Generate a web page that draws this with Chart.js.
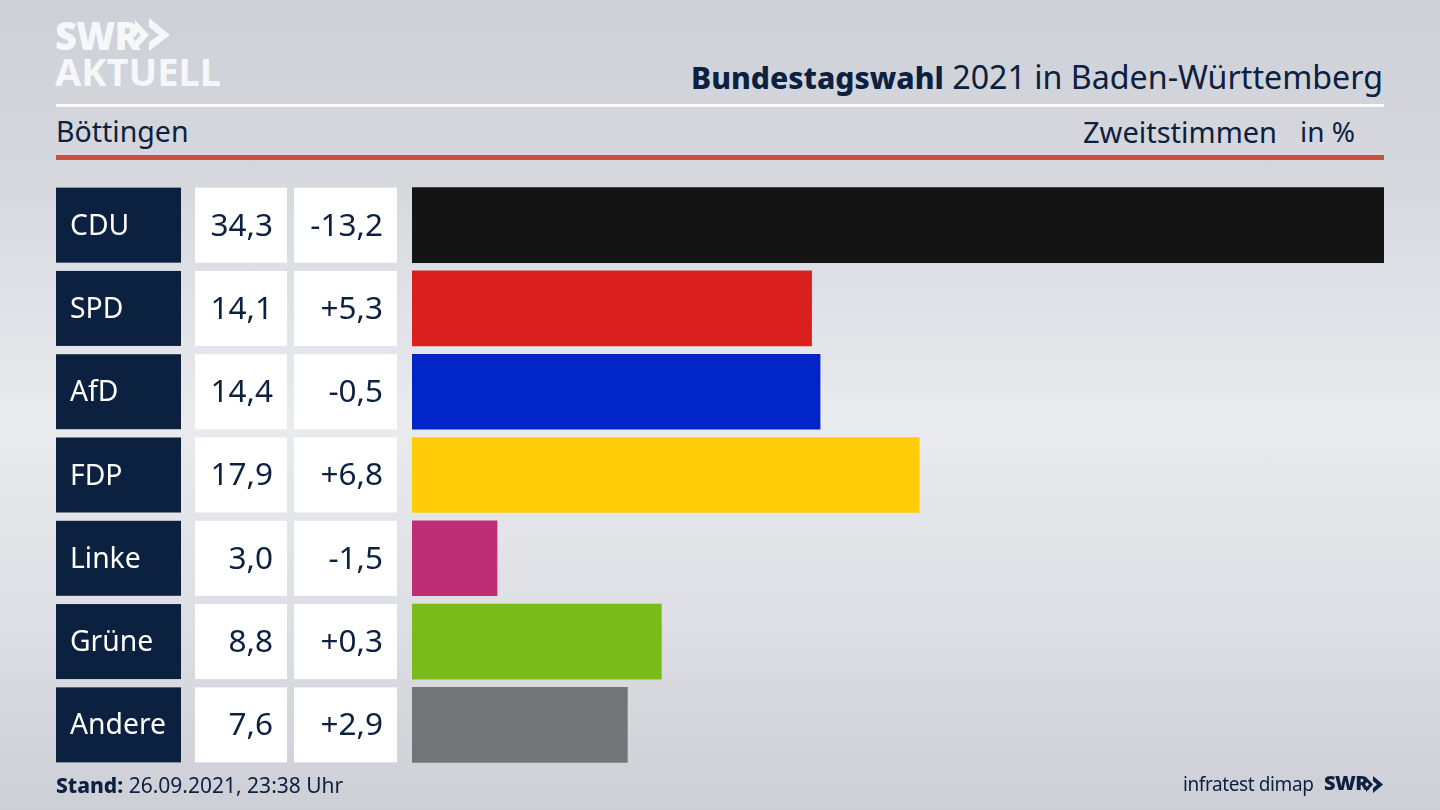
<!DOCTYPE html>
<html lang="de">
<head>
<meta charset="utf-8">
<title>Bundestagswahl 2021 in Baden-Württemberg</title>
<script src="https://cdn.jsdelivr.net/npm/chart.js@4"></script>
<style>
  html, body { margin: 0; padding: 0; }
  body {
    width: 1440px; height: 810px; overflow: hidden; position: relative;
    background: linear-gradient(to bottom, #cdd0d7 0%, #d6d8de 22%, #e9ebef 52%, #dcdee3 78%, #cdcfd6 100%);
    font-family: "Noto Sans", sans-serif; color: #0c2040;
  }
  canvas { position: absolute; left: 0; top: 0; }
  .t { position: absolute; white-space: nowrap; line-height: 1; }
  .rule { position: absolute; left: 56px; width: 1328px; }
  #logo1 { left: 55px; top: 16px; font-size: 38px; font-weight: 900; color: #f6f7f8; letter-spacing: -1px; }
  #logo2 { left: 55px; top: 52px; font-size: 38px; font-weight: 700; color: #f6f7f8; letter-spacing: 0; }
  #title { right: 57px; top: 61px; font-size: 32.2px; }
  #title b { font-weight: 800; font-size: 30.1px; }
  #place { left: 56px; top: 117px; font-size: 28.5px; }
  #kind { left: 1083px; top: 117px; font-size: 29px; }
  #unit { left: 1300px; top: 117px; font-size: 28px; }
  #stand { left: 56px; top: 775px; font-size: 21px; }
  #stand b { font-weight: 800; }
  #source { left: 1183px; top: 775px; font-size: 19px; letter-spacing: -0.4px; }
  #swr { left: 1324px; top: 773px; font-size: 20px; font-weight: 900; letter-spacing: -0.5px; }
  svg { position: absolute; }
</style>
</head>
<body>
<div class="t" id="logo1">SWR</div>
<svg style="left:135px;top:18px" width="36" height="34" viewBox="0 0 36 34"><path d="M0 2 L14 17 L0 32 L0 23 L6 17 L0 11 Z M14 0 L35 17 L14 33 L14 24 L24 17 L14 9 Z" fill="#f6f7f8"/></svg>
<div class="t" id="logo2">AKTUELL</div>
<div class="t" id="title"><b>Bundestagswahl</b> 2021 in Baden-Württemberg</div>
<div class="rule" style="top:104px;height:3px;background:#fbfbfc"></div>
<div class="t" id="place">Böttingen</div>
<div class="t" id="kind">Zweitstimmen</div>
<div class="t" id="unit">in %</div>
<div class="rule" style="top:155px;height:5px;background:#c9503c"></div>
<canvas id="wahlChart" width="1440" height="810"></canvas>
<div class="t" id="stand"><b>Stand:</b> 26.09.2021, 23:38 Uhr</div>
<div class="t" id="source">infratest dimap</div>
<div class="t" id="swr">SWR</div>
<svg style="left:1366px;top:776px" width="18" height="17" viewBox="0 0 18 17"><path d="M0 1 L7 8.5 L0 16 L0 12 L3 8.5 L0 5 Z M7 0 L17 8.5 L7 17 L7 12 L11 8.5 L7 5 Z" fill="#0c2040"/></svg>

<script>
// Werte
const parteien = ['CDU', 'SPD', 'AfD', 'FDP', 'Linke', 'Grüne', 'Andere'];
const anteile = [34.3, 14.1, 14.4, 17.9, 3.0, 8.8, 7.6];
const differenzen = [-13.2, 5.3, -0.5, 6.8, -1.5, 0.3, 2.9];
const farben = ['#141414', '#d9201e', '#0125c9', '#ffcc08', '#bd2e74', '#79bc1a', '#737476'];

const NAVY = '#0c2040';
const BALKEN = 75;

const fmtAnteil = v => v.toFixed(1).replace('.', ',');
const fmtDiff = v => (v > 0 ? '+' : '-') + Math.abs(v).toFixed(1).replace('.', ',');

// Kaesten links neben den Balken, vor den Achsen zeichnen
const kaesten = {
    id: 'kaesten',
    beforeDraw(chart) {
        const { ctx, scales: { y } } = chart;
        parteien.forEach((p, i) => {
            const top = y.getPixelForValue(i) - BALKEN / 2;
            ctx.fillStyle = NAVY;
            ctx.fillRect(56, top, 125, BALKEN);
            ctx.fillStyle = '#ffffff';
            ctx.fillRect(195, top, 92, BALKEN);
            ctx.fillRect(294, top, 103, BALKEN);
        });
    },
    afterDraw(chart) {
        const { ctx, scales: { y } } = chart;
        ctx.save();
        ctx.font = '31.5px "Noto Sans"';
        ctx.fillStyle = NAVY;
        ctx.textAlign = 'right';
        ctx.textBaseline = 'middle';
        parteien.forEach((p, i) => {
            const cy = y.getPixelForValue(i) + 1.5;
            ctx.fillText(fmtAnteil(anteile[i]), 273, cy);
            ctx.fillText(fmtDiff(differenzen[i]), 383, cy);
        });
        ctx.restore();
    }
};

new Chart(document.getElementById('wahlChart').getContext('2d'), {
    type: 'bar',
    data: {
        labels: parteien,
        datasets: [{
            data: anteile,
            backgroundColor: farben,
            barThickness: BALKEN,
            borderWidth: 0
        }]
    },
    options: {
        indexAxis: 'y',
        responsive: false,
        animation: false,
        layout: { padding: { left: 70, right: 56, top: 183.5, bottom: 43.5 } },
        plugins: { legend: { display: false }, tooltip: { enabled: false } },
        scales: {
            x: { display: false, min: 0, max: 34.3 },
            y: {
                afterFit: scale => { scale.width = 342; },
                grid: { display: false },
                border: { display: false },
                ticks: {
                    crossAlign: 'far',
                    color: '#ffffff',
                    labelOffset: 1.5,
                    font: { family: '"Noto Sans"', size: 28.3 }
                }
            }
        }
    },
    plugins: [kaesten]
});
</script>
</body>
</html>
